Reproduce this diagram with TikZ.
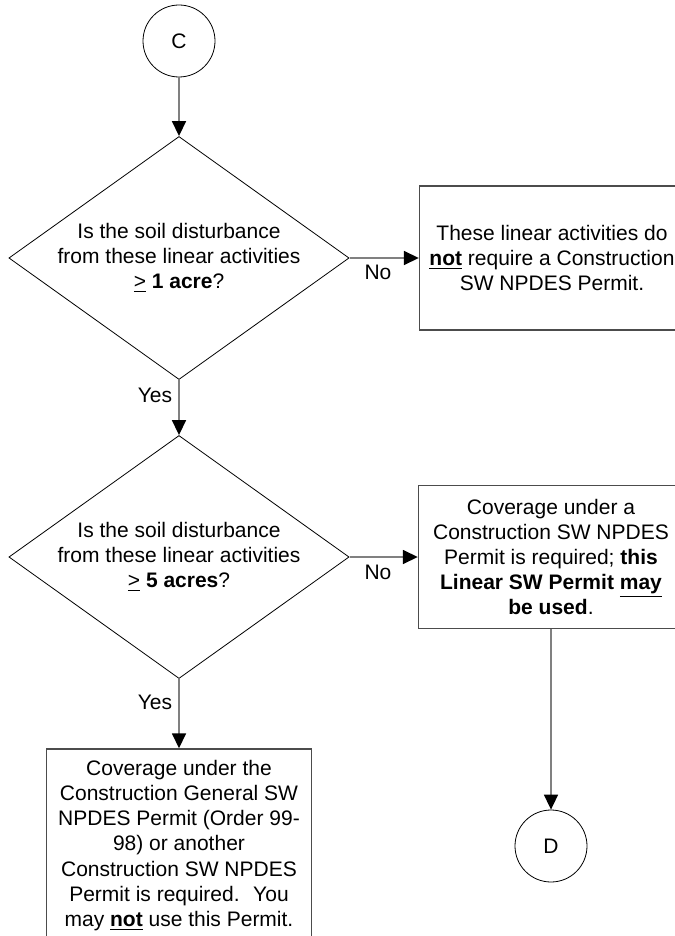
\documentclass[tikz,border=0pt]{standalone}
\usepackage{fontspec}
\setmainfont{Liberation Sans}
\usetikzlibrary{shapes.geometric,arrows.meta}

\begin{document}
\begin{tikzpicture}[x=0.5pt, y=-0.5pt,
        every node/.style={font=\fontsize{10.5}{12.6}\selectfont, align=center},
        connector/.style={circle, draw, thin, minimum size=36pt, inner sep=0pt},
        decision/.style={diamond, draw, thin, shape aspect=1.4, inner sep=0pt, minimum width=167.5pt, minimum height=120pt},
        outcome/.style={rectangle, draw=black!70, line width=0.7pt, minimum width=132.5pt, inner sep=2pt},
        flow/.style={draw=black!50, line width=0.8pt, -{Triangle[length=7.5pt, width=7pt, color=black]}}]

        \useasboundingbox (0,0) rectangle (674,936);

        \node[connector] (c) at (179, 41) {C};
        \node[decision] (acre1) at (179, 258) {Is the soil disturbance\\ from these linear activities\\ \underline{>} \textbf{1 acre}?};
        \node[outcome, minimum height=72pt] (nopermit) at (552, 258) {These linear activities do\\ \underline{\textbf{not}} require a Construction\\ SW NPDES Permit.};
        \node (no1) at (378, 272) {No};
        \node (yes1) at (155, 395) {Yes};

        \node[decision] (acre5) at (179, 557) {Is the soil disturbance\\ from these linear activities\\ \underline{>} \textbf{5 acres}?};
        \node[outcome, minimum height=71.5pt] (linear) at (551, 557) {Coverage under a\\ Construction SW NPDES\\ Permit is required; \textbf{this}\\ \textbf{Linear SW Permit \underline{may}}\\ \textbf{be used}.};
        \node (no2) at (378, 572) {No};
        \node (yes2) at (155, 702) {Yes};

        \node[outcome, minimum height=96.5pt] (general) at (179, 845.5) {Coverage under the\\ Construction General SW\\ NPDES Permit (Order 99-\\ 98) or another\\ Construction SW NPDES\\ Permit is required.~ You\\ may \underline{\textbf{not}} use this Permit.};
        \node[connector] (d) at (551, 846) {D};

        \draw[flow] (c) -- (acre1);
        \draw[flow] (acre1) -- (nopermit);
        \draw[flow] (acre1) -- (acre5);
        \draw[flow] (acre5) -- (linear);
        \draw[flow] (acre5) -- (general);
        \draw[flow] (linear) -- (d);

    \end{tikzpicture}
\end{document}
